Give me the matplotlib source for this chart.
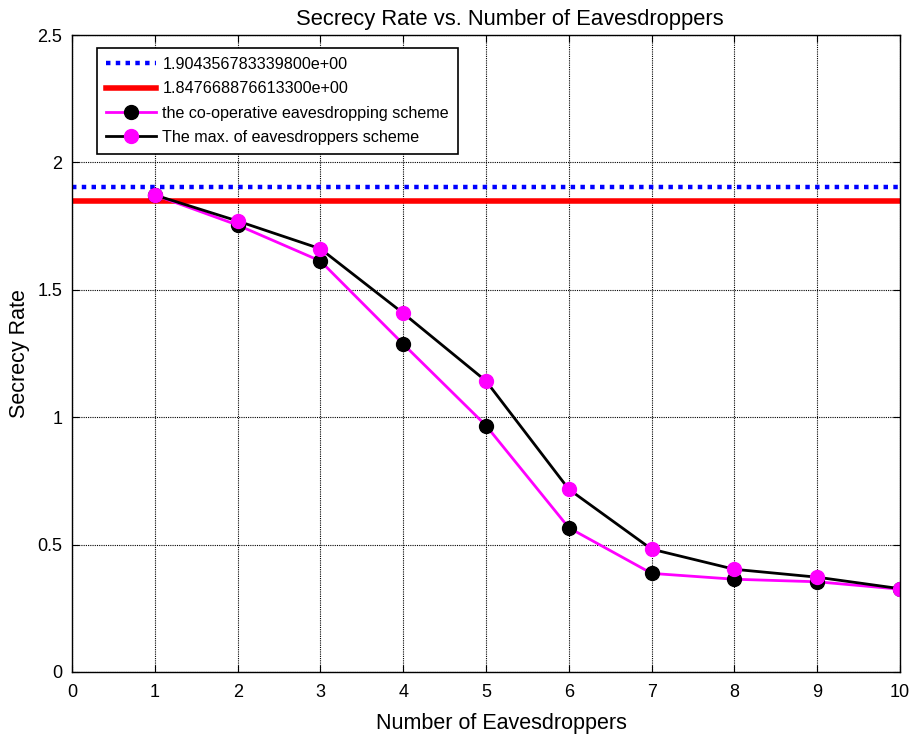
import matplotlib
matplotlib.use("Agg")
import matplotlib.pyplot as plt

plt.rcParams['font.family'] = ['Liberation Sans', 'DejaVu Sans']

x = [1, 2, 3, 4, 5, 6, 7, 8, 9, 10]
coop = [1.872, 1.754, 1.613, 1.287, 0.967, 0.566, 0.387, 0.364, 0.354, 0.325]
maxe = [1.872, 1.770, 1.661, 1.408, 1.142, 0.717, 0.482, 0.403, 0.372, 0.327]
ref1 = 1.904356783339800
ref2 = 1.847668876613300
lab1 = "1.904356783339800e+00"
lab2 = "1.847668876613300e+00"

fig = plt.figure(figsize=(9.2, 7.39), dpi=100)
ax = fig.add_axes([0.0783, 0.0907, 0.9, 0.8619])

ax.axhline(ref1, color='#0000ff', linestyle=(0, (1, 1.2)), linewidth=3.2, label=lab1)
ax.axhline(ref2, color='#ff0000', linestyle='-', linewidth=4, label=lab2)
ax.plot(x, coop, color='#ff00ff', linewidth=2, marker='o', markersize=10,
        markerfacecolor='black', markeredgecolor='black',
        label='the co-operative eavesdropping scheme')
ax.plot(x, maxe, color='black', linewidth=2, marker='o', markersize=10,
        markerfacecolor='#ff00ff', markeredgecolor='#ff00ff',
        label='The max. of eavesdroppers scheme')

ax.set_xlim(0, 10)
ax.set_ylim(0, 2.5)
ax.set_xticks(range(0, 11))
ax.set_yticks([0, 0.5, 1, 1.5, 2, 2.5])
ax.set_yticklabels(['0', '0.5', '1', '1.5', '2', '2.5'])
ax.grid(True, color='black', linestyle=(0, (1, 1)), linewidth=0.8)
ax.tick_params(direction='in', top=True, right=True, labelsize=13, length=5)
ax.tick_params(axis='x', pad=9)
ax.tick_params(axis='y', pad=7)
for s in ax.spines.values():
    s.set_linewidth(1)

ax.set_title('Secrecy Rate vs. Number of Eavesdroppers', fontsize=15.8, pad=7, x=0.529)
ax.set_xlabel('Number of Eavesdroppers', fontsize=15.5, labelpad=8)
ax.xaxis.label.set_x(0.519)
ax.set_ylabel('Secrecy Rate', fontsize=15.5, labelpad=5)

leg = ax.legend(loc='upper left', bbox_to_anchor=(0.0302, 0.9796), fontsize=11.6,
                numpoints=1, handlelength=3.1, fancybox=False, framealpha=1,
                edgecolor='black', borderaxespad=0, labelspacing=0.58,
                handletextpad=0.4, borderpad=0.55)
leg.get_frame().set_linewidth(1.2)

fig.savefig('out.png', dpi=100)
